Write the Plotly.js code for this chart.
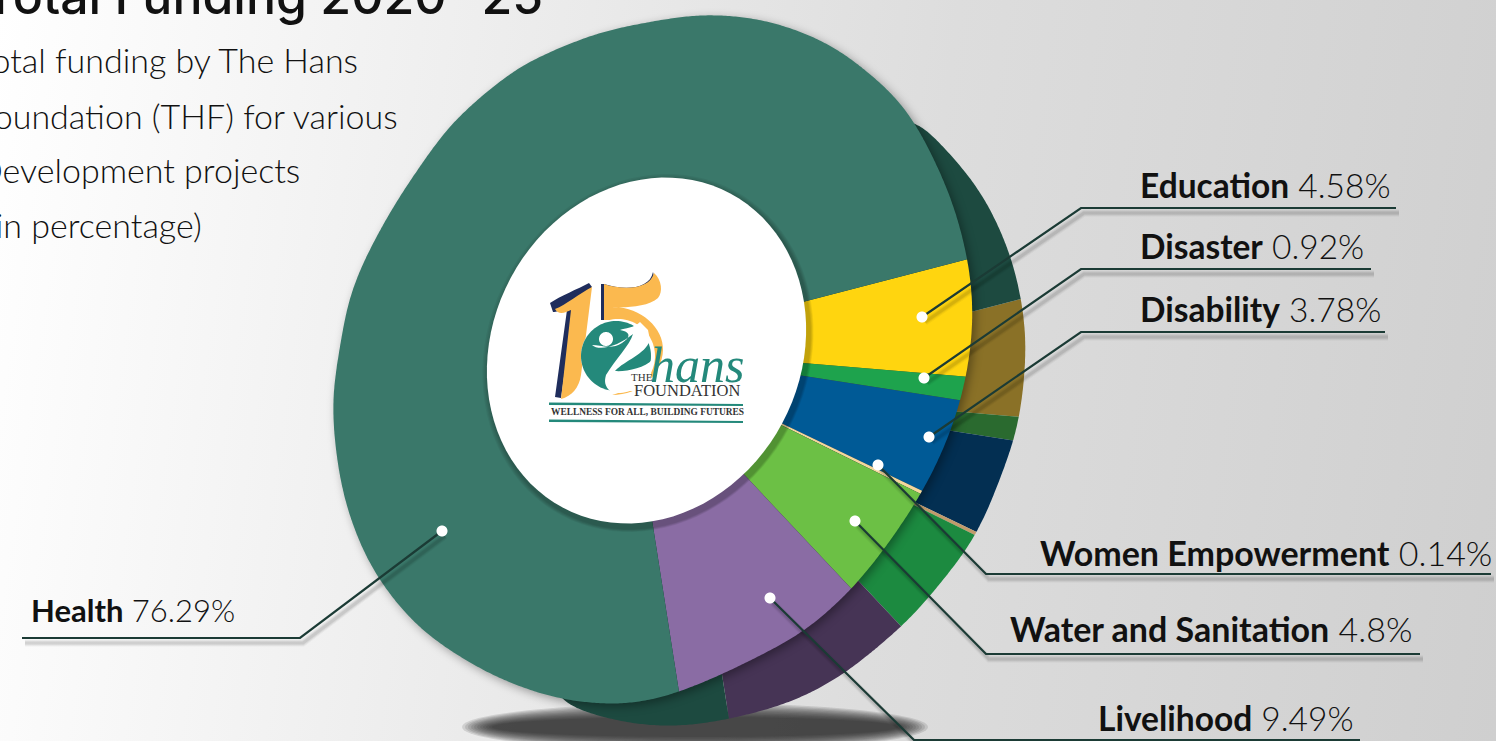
<!DOCTYPE html>
<html><head><meta charset="utf-8">
<script src="https://cdn.plot.ly/plotly-3.0.1.min.js"></script>
<style>
html,body{margin:0;padding:0;overflow:hidden;background:#fff}
#g{width:1496px;height:741px;background:linear-gradient(98deg,#ffffff 0%,#eeeeee 30%,#dddddd 60%,#cfcfcf 100%)}
</style></head><body><div id="g"></div>
<script>
const categories=["Education","Disaster","Disability","Women Empowerment","Water and Sanitation","Livelihood","Health"];
const values=[4.58,0.92,3.78,0.14,4.8,9.49,76.29];
const faceColors=["#ffd50f","#1ea34d","#005a96","#f3d79d","#6cc045","#8a6ca4","#3a786a"];
const sideColors=["#8a7127","#2a6a2f","#032f52","#c19a6b","#1c8a40","#463455","#1d4a40"];
const titleLines=["Total funding by The Hans","Foundation (THF) for various","Development projects","(in percentage)"];

const W=1496,H=741,X=x=>x/W,Y=y=>1-y/H;
const pp=s=>s.replace(/(-?[\d.]+),(-?[\d.]+)/g,(m,x,y)=>X(+x)+","+Y(+y));
function ell(cx,cy,a,b,deg){const t=deg*Math.PI/180;let d="";for(let i=0;i<96;i++){const u=i/96*2*Math.PI,ex=a*Math.cos(u),ey=b*Math.sin(u);
 d+=(i?"L":"M")+(cx+ex*Math.cos(t)-ey*Math.sin(t)).toFixed(2)+","+(cy+ex*Math.sin(t)+ey*Math.cos(t)).toFixed(2)+" ";}return d+"Z";}
const fill=(d,c,o,layer)=>({type:"path",xref:"paper",yref:"paper",path:pp(d),fillcolor:c,opacity:o==null?1:o,line:{width:0},layer:layer||"above"});
const stroke=(d,c,w,o)=>({type:"path",xref:"paper",yref:"paper",path:pp(d),line:{color:c,width:w},opacity:o==null?1:o,layer:"above"});
const shapes=[];
// ground shadow
for(let i=0;i<11;i++){shapes.push(fill(ell(695,727,233-i*3,24-i*1.4,0),"#222",0.13,"below"));}
// hole shadow + hole
for(let i=0;i<5;i++){shapes.push(fill(ell(648+i*.3,353+i*.4,178+6-i,154+6-i,-61.9),"#000",0.05));}
shapes.push(fill(ell(646.5,350.5,178,154,-61.9),"#ffffff"));
// leaders
const leaders=[
 [[922,317],[1081,208],[1396,208]],
 [[924,378],[1081,269],[1371,269]],
 [[929,437],[1081,332],[1385,332]],
 [[878,465],[986,574],[1491,574]],
 [[855,521],[986,654],[1420,654]],
 [[770,598],[914,740],[1360,740]],
 [[442,531],[300,638],[22,638]]];
leaders.forEach(L=>{const sh=L.map(p=>"" + (p[0]+3)+","+(p[1]+5));
 [[7,.035],[5,.05],[3,.07]].forEach(v=>shapes.push(stroke("M"+sh.join(" L"),"#000",v[0],v[1])));});
leaders.forEach(L=>{shapes.push(stroke("M"+L.map(p=>p[0]+","+p[1]).join(" L"),"#1b3b35",2.2));});
leaders.forEach(L=>{shapes.push(fill(ell(L[0][0],L[0][1],5.5,5.5,0),"#ffffff"));});
// logo
const navy="#1f2d5c",org="#fbb94f",teal="#24897b";
shapes.push(fill("M550,303 C560,296 578,289 589,283 L592,287 L574,306 L561,398 L555,397 L567,310 C562,310 556,312 553,312 Z",navy));
shapes.push(fill("M555,309 C566,305 580,293 592,287 L581,375 C579,388 572,396 561,399 L571,310 C565,313 558,315 555,309 Z",org));
shapes.push(fill("M601,284 L604,284 C625,291 650,289 653,272 L655,280 L610,300 L607,320 L601,320 Z",navy));
shapes.push(fill("M604,284 C625,291 650,289 654,273 C662,280 663,292 658,298 C648,307 625,308 612,307 C640,306 664,328 663,350 C662,375 640,395 612,395 C640,388 650,360 640,340 C630,322 612,320 604,320 Z",org));
shapes.push(fill(ell(618,356,37,37,0),"#ffffff"));
shapes.push(fill(ell(616,356,35,35,0),teal));
shapes.push(fill(ell(606,339,7,7,0),"#ffffff"));
shapes.push(fill("M592,345 C600,352 620,345 633,334 C630,345 615,360 606,375 C604,382 605,386 610,391 L650,391 L652,360 C645,368 625,372 615,371 C625,360 645,355 650,340 L648,330 L640,322 C634,328 625,328 620,330 C632,332 630,338 622,343 C612,350 600,345 592,345 Z","#ffffff"));
shapes.push(fill("M549,402.5 L743,404 L743,406 L549,405 Z",teal));
shapes.push(fill("M549,419.5 L743,421 L743,423 L549,422 Z",teal));

const lato='Lato, Carlito, sans-serif',serif='"Liberation Serif", serif';
const ann=(x,y,text,o)=>Object.assign({xref:"paper",yref:"paper",x:X(x),y:Y(y),text,showarrow:false,xanchor:"left",yanchor:"middle",align:"left",
  font:{family:lato,size:32,color:"#111"}},o||{});
const pos=[[1138,185],[1138,246],[1138,309],[1038,552],[1008,628],[1096,718],[29,610]];
const sizes=[33.5,33.5,33.5,34,34,33.5,31];
const annotations=categories.map((c,i)=>ann(pos[i][0],pos[i][1],"<b>"+c+"</b> "+values[i]+"%",{font:{family:lato,size:sizes[i],color:"#111",weight:300}}));
annotations.push(ann(545,-4,"Total Funding 2020 -25",{xanchor:"right",font:{family:'Inter, sans-serif',size:50,color:"#111",weight:500}}));
[60,115,170,225].forEach((y,i)=>{const r=[360,400,302,204][i];annotations.push(ann(r,y,titleLines[i],{xanchor:"right",font:{family:lato,size:34,color:"#111",weight:300}}));});
annotations.push(ann(648,365,"<i>hans</i>",{font:{family:serif,size:50,color:teal}}));
annotations.push(ann(629,377,"THE",{font:{family:serif,size:11,color:"#333"}}));
annotations.push(ann(632,390,"FOUNDATION",{font:{family:serif,size:16.5,color:"#333"}}));
annotations.push(ann(549,412,"<b>WELLNESS FOR ALL, BUILDING FUTURES</b>",{font:{family:serif,size:9.4,color:"#333"}}));

const pie=(colors)=>({type:"pie",labels:categories,values:values,sort:false,direction:"clockwise",rotation:77.5,hole:0,
  textinfo:"none",hoverinfo:"skip",showlegend:false,marker:{colors:colors,line:{width:0}},domain:{x:[0,1],y:[0,1]}});
const data=[pie(sideColors),pie(faceColors)];
const layout={width:W,height:H,margin:{l:0,r:0,t:0,b:0},paper_bgcolor:"rgba(0,0,0,0)",plot_bgcolor:"rgba(0,0,0,0)",showlegend:false,shapes,annotations};

// outlines of the two tilted faces
const frontEdge=[[700,13],[767,19],[833,44],[885,86],[907,108],[935,160],[955,207],[970,267],[974,320],[967,377],[952,430],[928,483],[895,535],[854,588],[804,633],[726,673],[665,698],[620,706],[553,699],[487,674],[420,631],[376,578],[351,524],[338,473],[331,400],[349,293],[374,240],[400,195],[451,122],[519,65],[600,31]];
const sideEdge=[[905,108],[950,153],[983,193],[1011,253],[1024,310],[1027,350],[1020,420],[1014,442],[985,518],[969,548],[912,618],[847,673],[797,701],[733,719],[672,728],[611,721],[576,708],[547,700],[600,500],[750,300]];
function smooth(P,win){ // arc-length resample, then circular box filter (twice)
 const n=P.length,pts=[];
 for(let i=0;i<n;i++){const a=P[i],b=P[(i+1)%n],L=Math.hypot(b[0]-a[0],b[1]-a[1]),m=Math.max(1,Math.round(L/2));
  for(let j=0;j<m;j++)pts.push([a[0]+(b[0]-a[0])*j/m,a[1]+(b[1]-a[1])*j/m]);}
 let cur=pts;const N=pts.length;
 for(let pass=0;pass<2;pass++){const nx=[];for(let i=0;i<N;i++){let sx=0,sy=0;for(let j=-win;j<=win;j++){const p=cur[(i+j+N)%N];sx+=p[0];sy+=p[1];}
  nx.push([sx/(2*win+1),sy/(2*win+1)]);}cur=nx;}
 return "M"+cur.map(p=>p[0].toFixed(1)+","+p[1].toFixed(1)).join(" L")+"Z";}

Plotly.newPlot("g",data,layout,{displayModeBar:false,staticPlot:true}).then(gd=>{
 const ns="http://www.w3.org/2000/svg",svg=gd.querySelector(".main-svg"),lay=svg.querySelector(".pielayer");
 const tr=[...lay.querySelectorAll(".trace")];
 const defs=svg.querySelector("defs")||svg.insertBefore(document.createElementNS(ns,"defs"),svg.firstChild);
 const cfg=[{ax:677,ay:388,edge:sideEdge},{ax:625,ay:348,edge:frontEdge}];
 const rx=520,k=1.2,sh=-0.1;
 tr.forEach((t,i)=>{const cd=gd.calcdata[i][0],sx=rx/cd.r,c=cfg[i];
  t.setAttribute("transform",`translate(${c.ax},${c.ay}) matrix(${sx},0,${sx*k*sh},${sx*k},0,0) translate(${-cd.cx},${-cd.cy})`);
  const cp=document.createElementNS(ns,"clipPath");cp.setAttribute("id","pc"+i);
  const e=document.createElementNS(ns,"path");e.setAttribute("d",smooth(c.edge,14));cp.appendChild(e);defs.appendChild(cp);
  const g=document.createElementNS(ns,"g");g.setAttribute("clip-path",`url(#pc${i})`);
  const o=document.createElementNS(ns,"g");if(i==1)o.setAttribute("style","filter:drop-shadow(3px 3px 5px rgba(0,0,0,.35))");
  lay.appendChild(o);o.appendChild(g);g.appendChild(t);
 });
});
</script></body></html>
